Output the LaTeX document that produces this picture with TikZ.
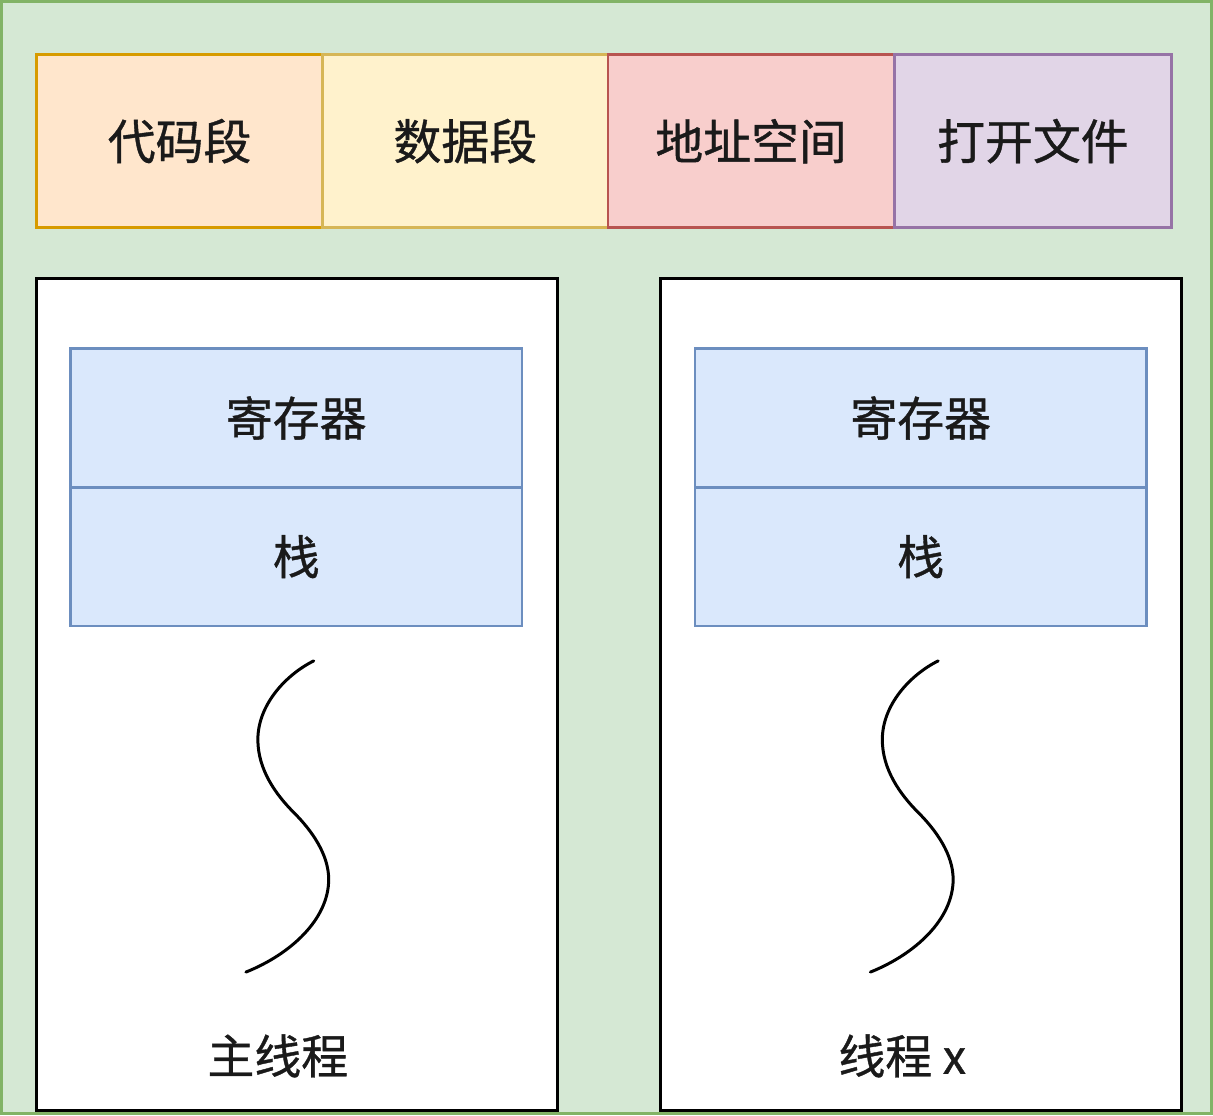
\documentclass[tikz,border=0pt]{standalone}
\usepackage{fontspec}
\setmainfont{Noto Sans CJK SC}[FakeBold=0.8]
\usetikzlibrary{positioning}

\definecolor{bggreen}{HTML}{D5E8D4}
\definecolor{bgline}{HTML}{82B366}
\definecolor{segorange}{HTML}{FFE6CC}
\definecolor{lineorange}{HTML}{D79B00}
\definecolor{segyellow}{HTML}{FFF2CC}
\definecolor{lineyellow}{HTML}{D6B656}
\definecolor{segred}{HTML}{F8CECC}
\definecolor{linered}{HTML}{B85450}
\definecolor{segpurple}{HTML}{E1D5E7}
\definecolor{linepurple}{HTML}{9673A6}
\definecolor{regblue}{HTML}{DAE8FC}
\definecolor{lineblue}{HTML}{6C8EBF}
\definecolor{txt}{HTML}{1A1A1A}

\tikzset{
  seg/.style={draw, line width=3pt, minimum height=174pt, inner sep=0pt,
    outer sep=0pt, font=\fontsize{48}{52}\selectfont, text=txt},
  thr/.style={draw=black, line width=3pt, fill=white, minimum width=522pt,
    minimum height=834pt, inner sep=0pt, outer sep=0pt, anchor=north west},
  reg/.style={draw=lineblue, fill=regblue, line width=2.5pt, minimum width=453pt,
    minimum height=139pt, inner sep=0pt, outer sep=0pt,
    font=\fontsize{47}{50}\selectfont, text=txt},
  lbl/.style={font=\fontsize{47}{50}\selectfont, text=txt},
  wave/.style={line width=3pt, line cap=round}
}

\begin{document}
\begin{tikzpicture}[x=1pt,y=-1pt]
  % background
  \fill[bggreen] (0,0) rectangle (1213,1115);
  \draw[bgline, line width=3pt] (0,0) rectangle (1213,1115);
  \useasboundingbox (0,0) rectangle (1213,1115);

  % shared parts of the process
  \node (code) [seg, fill=segorange, draw=lineorange, minimum width=287pt, anchor=north west] at (35,53) {代码段};
  \node (data) [seg, fill=segyellow, draw=lineyellow, minimum width=286pt, right=0pt of code] {数据段};
  \node (addr) [seg, fill=segred, draw=linered, minimum width=287pt, right=0pt of data] {地址空间};
  \node (files) [seg, fill=segpurple, draw=linepurple, minimum width=278pt, right=0pt of addr] {打开文件};

  % threads
  \node (mainthr) [thr] at (35,278) {};
  \node (xthr) [thr] at (661,278) {};

  \node (mainreg) [reg, anchor=north west] at (69,348) {寄存器};
  \node (mainstk) [reg, below=0pt of mainreg] {栈};
  \node (xreg) [reg, anchor=north west] at (695,348) {寄存器};
  \node (xstk) [reg, below=0pt of xreg] {栈};

  \draw[wave] (313,661) .. controls (285,675) and (257,705) .. (257,740)
    .. controls (257,770) and (275,795) .. (293,813)
    .. controls (311,831) and (328,855) .. (328,880)
    .. controls (328,920) and (290,955) .. (245,973);
  \draw[wave] (939,661) .. controls (911,675) and (883,705) .. (883,740)
    .. controls (883,770) and (901,795) .. (919,813)
    .. controls (937,831) and (954,855) .. (954,880)
    .. controls (954,920) and (916,955) .. (871,973);

  \node (mainlbl) [lbl] at (277,1057) {主线程};
  \node (xlbl) [lbl] at (903,1057) {线程 x};
\end{tikzpicture}
\end{document}
